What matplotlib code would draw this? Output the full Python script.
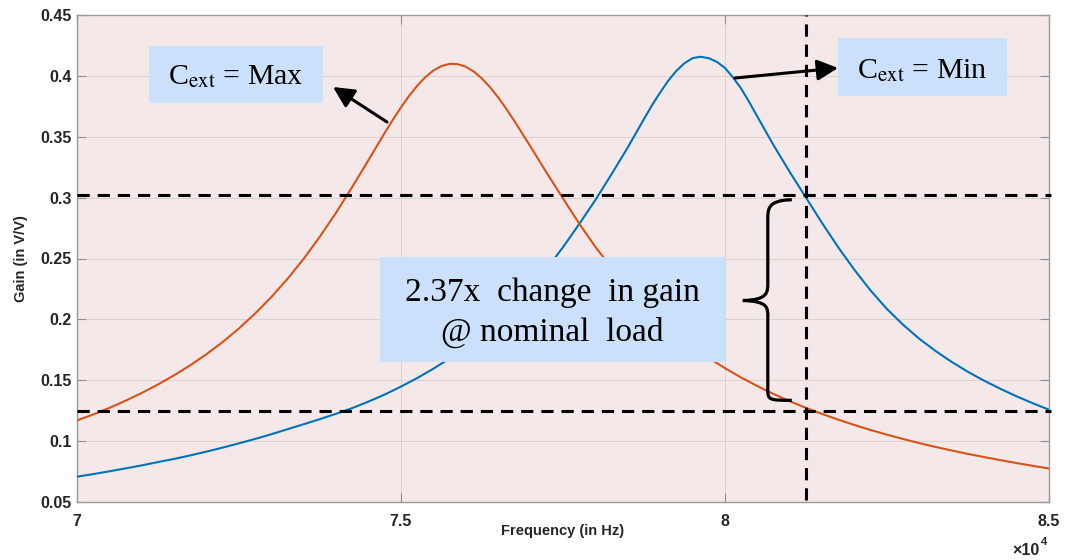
import matplotlib.pyplot as plt
from matplotlib.patches import Rectangle, FancyArrowPatch, PathPatch
from matplotlib.path import Path
import numpy as np

# frequency samples (Hz), denser around each peak
freq_max = np.concatenate([np.arange(70000, 74750, 250), np.arange(74750, 76750, 125),
                           np.arange(76750, 85001, 250)])
freq_min = np.concatenate([np.arange(70000, 78750, 250), np.arange(78750, 80500, 125),
                           np.arange(80500, 85001, 250)])

# gain for Cext = Max (orange)
gain_max = [0.1170, 0.1219, 0.1273, 0.1332, 0.1396, 0.1465, 0.1541, 0.1624, 0.1715, 0.1815,
            0.1926, 0.2049, 0.2184, 0.2334, 0.2499, 0.2681, 0.2878, 0.3090, 0.3310,
            0.3533, 0.3640, 0.3742, 0.3836, 0.3919, 0.3989, 0.4044, 0.4081, 0.4099, 0.4096,
            0.4075, 0.4035, 0.3978, 0.3906, 0.3823, 0.3729,
            0.3629, 0.3418, 0.3202, 0.2993, 0.2787, 0.2595, 0.2424, 0.2268, 0.2127, 0.1998,
            0.1881, 0.1775, 0.1683, 0.1599, 0.1522, 0.1452, 0.1387, 0.1328, 0.1273, 0.1223,
            0.1176, 0.1132, 0.1091, 0.1053, 0.1017, 0.0984, 0.0952, 0.0923, 0.0895, 0.0869,
            0.0844, 0.0820, 0.0797, 0.0775]

# gain for Cext = Min (blue)
gain_min = [0.0708, 0.0729, 0.0752, 0.0776, 0.0801, 0.0828, 0.0854, 0.0883, 0.0914, 0.0947,
            0.0982, 0.1018, 0.1057, 0.1098, 0.1139, 0.1181, 0.1225, 0.1272, 0.1325, 0.1383,
            0.1448, 0.1518, 0.1595, 0.1679, 0.1774, 0.1876, 0.1989, 0.2116, 0.2258, 0.2417,
            0.2593, 0.2783, 0.2981, 0.3193, 0.3413,
            0.3646, 0.3760, 0.3864, 0.3961, 0.4042, 0.4104, 0.4146, 0.4157, 0.4145, 0.4115,
            0.4065, 0.3986, 0.3895, 0.3784,
            0.3665, 0.3430, 0.3210, 0.3000, 0.2790, 0.2590, 0.2405, 0.2235, 0.2085, 0.1955,
            0.1840, 0.1740, 0.1650, 0.1569, 0.1496, 0.1430, 0.1368, 0.1311, 0.1258]

gain_high = 0.302   # upper dashed level
gain_low = 0.125    # lower dashed level
f_nominal = 81250   # nominal load frequency

xticks = [70000, 75000, 80000, 85000]
xtick_labels = ['7', '7.5', '8', '8.5']
yticks = [0.05, 0.1, 0.15, 0.2, 0.25, 0.3, 0.35, 0.4, 0.45]
ytick_labels = ['0.05', '0.1', '0.15', '0.2', '0.25', '0.3', '0.35', '0.4', '0.45']

plt.rcParams['font.family'] = ['Liberation Sans', 'DejaVu Sans']
plt.rcParams['mathtext.fontset'] = 'stix'

fig = plt.figure(figsize=(10.65, 5.6), dpi=100)
ax = fig.add_axes([77/1065, 58/560, 972/1065, 487/560])
ax.set_facecolor('#f4e9e8')

ax.plot(freq_min, gain_min, color='#0072bd', lw=1.5, zorder=3)
ax.plot(freq_max, gain_max, color='#d95319', lw=1.5, zorder=3)

ax.set_xlim(70000, 85000)
ax.set_ylim(0.05, 0.45)
ax.set_xticks(xticks)
ax.set_xticklabels(xtick_labels)
ax.set_yticks(yticks)
ax.set_yticklabels(ytick_labels)
ax.tick_params(direction='in', length=6.5, width=0.8, color='#8c8c8c',
               top=True, right=True, labelsize=11.5)
ax.tick_params(axis='x', pad=9)
ax.tick_params(axis='y', pad=4)
for lab in ax.get_xticklabels() + ax.get_yticklabels():
    lab.set_fontweight('bold')
    lab.set_color('#262626')
ax.grid(True, color='#ddd0cf', lw=0.7)
ax.set_axisbelow(True)
for s in ax.spines.values():
    s.set_color('#9a9a9a')
    s.set_linewidth(1.0)

ax.set_xlabel('Frequency (in Hz)', fontsize=10.5, fontweight='bold', color='#262626', labelpad=-4)
ax.set_ylabel('Gain (in V/V)', fontsize=10.5, fontweight='bold', color='#262626', labelpad=9)
ax.text(0.9907, -0.099, '\u00d710', transform=ax.transAxes, ha='right', va='center',
        fontsize=11.5, fontweight='bold', color='#262626')
ax.text(0.9912, -0.082, '4', transform=ax.transAxes, ha='left', va='center',
        fontsize=8, fontweight='bold', color='#262626')

# dashed guide lines
dash = (0, (4, 2.6))
ax.plot([70000, 85000 * 1.0003], [gain_high, gain_high], color='black', lw=2.2,
        linestyle=dash, clip_on=False, zorder=4)
ax.plot([70000, 85000 * 1.0003], [gain_low, gain_low], color='black', lw=2.2,
        linestyle=dash, clip_on=False, zorder=4)
ax.plot([f_nominal, f_nominal], [0.052, 0.45], color='black', lw=2.2,
        linestyle=dash, zorder=4)

# label boxes
box_color = '#cbe0fb'
serif = ['Liberation Serif', 'DejaVu Serif']
ax.add_patch(Rectangle((0.0741, 0.819), 0.179, 0.117, transform=ax.transAxes,
                       facecolor=box_color, edgecolor='none', zorder=5))
ax.text(0.1636, 0.874, r'C$_{\mathrm{ext}}$ = Max', transform=ax.transAxes, ha='center',
        va='center', fontsize=21.5, family=serif, zorder=6)
ax.add_patch(Rectangle((0.783, 0.834), 0.174, 0.119, transform=ax.transAxes,
                       facecolor=box_color, edgecolor='none', zorder=5))
ax.text(0.870, 0.886, r'C$_{\mathrm{ext}}$ = Min', transform=ax.transAxes, ha='center',
        va='center', fontsize=21.5, family=serif, zorder=6)
ax.add_patch(Rectangle((0.3117, 0.2875), 0.355, 0.2155, transform=ax.transAxes,
                       facecolor=box_color, edgecolor='none', zorder=5))
ax.text(0.489, 0.389, '2.37x  change  in gain\n@ nominal  load', transform=ax.transAxes,
        ha='center', va='center', fontsize=24, family=serif, linespacing=1.35, zorder=6)

# arrows
for tail, head in [((0.3189, 0.7803), (0.2634, 0.8522)), ((0.677, 0.8706), (0.783, 0.8912))]:
    ax.add_patch(FancyArrowPatch(tail, head, transform=ax.transAxes,
                                 arrowstyle='-|>,head_length=0.9,head_width=0.45',
                                 mutation_scale=14, color='black', lw=2.2, zorder=6,
                                 shrinkA=0, shrinkB=0))

# curly brace
verts = [(0.7354, 0.6206), (0.710, 0.620), (0.7107, 0.60), (0.7107, 0.58),
         (0.7107, 0.54), (0.7107, 0.45),
         (0.7107, 0.43), (0.7107, 0.415), (0.685, 0.4137),
         (0.7107, 0.412), (0.7107, 0.40), (0.7107, 0.38),
         (0.7107, 0.30), (0.7107, 0.23),
         (0.7107, 0.21), (0.712, 0.2087), (0.7354, 0.2087)]
codes = [Path.MOVETO, Path.CURVE4, Path.CURVE4, Path.CURVE4,
         Path.LINETO, Path.LINETO,
         Path.CURVE4, Path.CURVE4, Path.CURVE4,
         Path.CURVE4, Path.CURVE4, Path.CURVE4,
         Path.LINETO, Path.LINETO,
         Path.CURVE4, Path.CURVE4, Path.CURVE4]
ax.add_patch(PathPatch(Path(verts, codes), transform=ax.transAxes, facecolor='none',
                       edgecolor='black', lw=2.3, zorder=6))

fig.savefig('out.png', dpi=100)
